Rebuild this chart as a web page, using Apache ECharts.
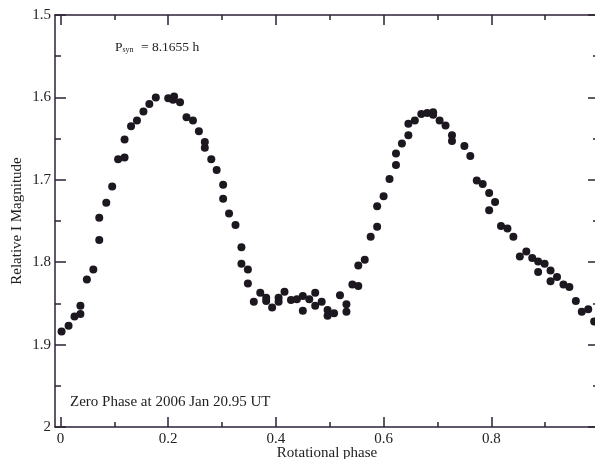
<!DOCTYPE html>
<html>
<head>
<meta charset="utf-8">
<script src="https://cdn.jsdelivr.net/npm/echarts@6/dist/echarts.min.js"></script>
<style>html,body{margin:0;padding:0;background:#fff;}#c{width:595px;height:459px;}</style>
</head>
<body>
<div id="c"></div>
<script>
const phase = [0.002,0.015,0.026,0.037,0.037,0.049,0.061,0.072,0.072,0.085,0.096,0.107,0.119,0.119,0.131,0.142,0.154,0.165,0.177,0.200,0.209,0.211,0.222,0.234,0.246,0.257,0.268,0.268,0.280,0.290,0.302,0.302,0.313,0.325,0.336,0.336,0.348,0.348,0.359,0.371,0.382,0.382,0.393,0.405,0.405,0.416,0.428,0.439,0.450,0.450,0.462,0.473,0.473,0.485,0.496,0.496,0.508,0.519,0.531,0.531,0.542,0.553,0.553,0.565,0.576,0.588,0.588,0.600,0.611,0.623,0.623,0.634,0.646,0.646,0.658,0.670,0.681,0.692,0.692,0.704,0.715,0.727,0.727,0.750,0.761,0.773,0.784,0.796,0.796,0.807,0.818,0.830,0.841,0.853,0.865,0.876,0.887,0.887,0.899,0.910,0.910,0.922,0.934,0.945,0.957,0.968,0.980,0.991];
const mag = [1.884,1.877,1.866,1.863,1.853,1.821,1.809,1.773,1.746,1.728,1.708,1.675,1.673,1.651,1.635,1.628,1.617,1.608,1.600,1.601,1.603,1.599,1.606,1.624,1.628,1.641,1.654,1.661,1.675,1.688,1.706,1.723,1.741,1.755,1.782,1.802,1.809,1.826,1.848,1.837,1.843,1.847,1.855,1.843,1.848,1.836,1.846,1.845,1.841,1.859,1.845,1.837,1.853,1.848,1.858,1.865,1.862,1.840,1.851,1.860,1.827,1.829,1.804,1.797,1.769,1.757,1.732,1.720,1.699,1.682,1.668,1.656,1.646,1.632,1.628,1.620,1.619,1.618,1.621,1.628,1.634,1.646,1.653,1.659,1.671,1.701,1.705,1.716,1.737,1.727,1.756,1.759,1.769,1.793,1.787,1.795,1.799,1.812,1.802,1.810,1.823,1.818,1.827,1.830,1.847,1.860,1.857,1.872];
const xMajorTicks = [0, 0.2, 0.4, 0.6, 0.8];
const xMinorTicks = [0.1, 0.3, 0.5, 0.7, 0.9];
const xTitle = 'Rotational phase';
const yTitle = 'Relative I Magnitude';
const periodText = '8.1655 h';
const zeroPhaseText = 'Zero Phase at 2006 Jan 20.95 UT';

const FONT = '"Liberation Serif", "DejaVu Serif", serif';
const LINE = '#2c2235';
const data = phase.map((p, i) => [p, mag[i]]);
const XMIN = -0.0102, XMAX = 1.0;

function xAx(pos, ticks, len, showLine, labels) {
  return {
    type: 'value', position: pos, min: XMIN, max: XMAX,
    axisLine: { show: showLine, onZero: false, lineStyle: { color: LINE, width: 1.5 } },
    axisTick: { show: true, inside: true, length: len, customValues: ticks, lineStyle: { color: LINE, width: 1.5 } },
    axisLabel: labels ? { show: true, customValues: ticks, margin: 5, color: '#222', fontFamily: FONT, fontSize: 15 } : { show: false },
    splitLine: { show: false },
    name: labels ? xTitle : '', nameLocation: 'middle', nameGap: 19, nameMoveOverlap: false,
    nameTextStyle: { color: '#222', fontFamily: FONT, fontSize: 15 }
  };
}
function yAx(pos, labels) {
  return {
    type: 'value', position: pos, inverse: true, min: 1.5, max: 2, interval: 0.1,
    axisLine: { show: true, onZero: false, lineStyle: { color: LINE, width: 1.5 } },
    axisTick: { show: true, inside: true, length: 11, lineStyle: { color: LINE, width: 1.5 } },
    minorTick: { show: true, splitNumber: 2, length: 6, lineStyle: { color: LINE, width: 1.5 } },
    axisLabel: labels ? { show: true, margin: 4, color: '#222', fontFamily: FONT, fontSize: 15, formatter: v => String(+v.toFixed(1)) } : { show: false },
    splitLine: { show: false },
    name: labels ? yTitle : '', nameLocation: 'middle', nameGap: 30, nameMoveOverlap: false,
    nameTextStyle: { color: '#222', fontFamily: FONT, fontSize: 15 }
  };
}

const chart = echarts.init(document.getElementById('c'), null, { renderer: 'canvas' });
chart.setOption({
  animation: false,
  backgroundColor: '#fff',
  grid: { left: 55, right: -4, top: 15, bottom: 32, containLabel: false, outerBoundsMode: 'none' },
  xAxis: [
    xAx('bottom', xMajorTicks, 10, true, true),
    xAx('bottom', xMinorTicks, 5, false, false),
    xAx('top', xMajorTicks, 10, true, false),
    xAx('top', xMinorTicks, 5, false, false)
  ],
  yAxis: [yAx('left', true), yAx('right', false)],
  series: [{
    type: 'scatter', xAxisIndex: 0, yAxisIndex: 0, data: data,
    symbol: 'circle', symbolSize: 8,
    itemStyle: { color: '#1d1820', opacity: 1 }
  }],
  graphic: [
    { type: 'text', left: 115, top: 40,
      style: { text: '{p|P}{s|syn}{p| = ' + periodText + '}', rich: {
        p: { fontFamily: FONT, fontSize: 13.5, fill: '#222' },
        s: { fontFamily: FONT, fontSize: 8, fill: '#222', padding: [6, 4, 0, 0] }
      } } },
    { type: 'text', left: 70, top: 395,
      style: { text: zeroPhaseText, fontFamily: FONT, fontSize: 15, fill: '#222' } }
  ]
});
</script>
</body>
</html>
